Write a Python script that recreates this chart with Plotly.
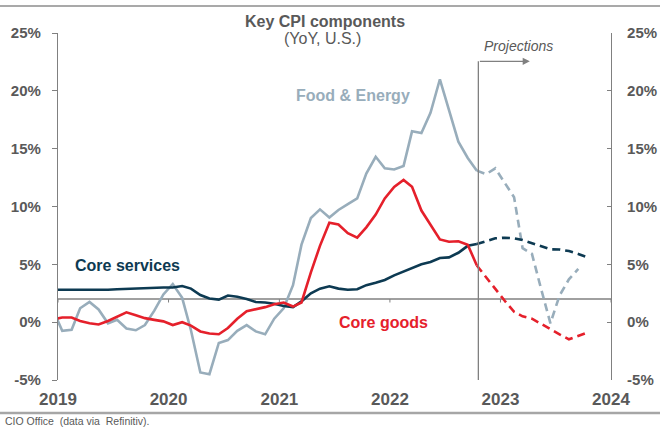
import pandas as pd
import plotly.graph_objects as go

# ---------------- data ----------------
actual_dates = pd.date_range("2018-12-01", "2022-10-01", freq="MS") + pd.Timedelta(days=14)
proj_dates = pd.date_range("2022-10-01", "2023-10-01", freq="MS") + pd.Timedelta(days=14)

core_services_actual = [2.8,
    2.8, 2.78, 2.78, 2.8, 2.77, 2.8, 2.85, 2.88, 2.92, 2.98, 3.02, 3.0,
    3.0, 3.12, 2.9, 2.35, 2.05, 1.95, 2.3, 2.2, 2.0, 1.75, 1.7, 1.6,
    1.4, 1.3, 1.8, 2.5, 2.9, 3.1, 2.9, 2.8, 2.85, 3.2, 3.4, 3.65,
    4.05, 4.4, 4.7, 5.0, 5.2, 5.55, 5.6, 6.0, 6.6, 6.75]
core_goods_actual = [0.25,
    0.4, 0.4, 0.1, -0.1, -0.2, 0.1, 0.45, 0.85, 0.6, 0.35, 0.2, 0.07,
    -0.25, 0.0, -0.3, -0.8, -0.98, -1.04, -0.5, 0.3, 0.95, 1.1, 1.3, 1.55,
    1.7, 1.35, 1.7, 4.3, 6.6, 8.6, 8.45, 7.7, 7.3, 8.2, 9.3, 10.7,
    11.7, 12.3, 11.7, 9.65, 8.4, 7.15, 6.95, 7.0, 6.7, 4.9]
food_energy_actual = [1.1,
    -0.75, -0.65, 1.2, 1.75, 1.1, -0.1, 0.2, -0.55, -0.7, -0.25, 1.0, 2.4,
    3.3, 2.1, -0.7, -4.35, -4.5, -1.8, -1.55, -0.75, -0.25, -0.8, -1.05, 0.3,
    1.2, 3.2, 6.7, 9.0, 9.75, 9.05, 9.7, 10.2, 10.7, 12.85, 14.3, 13.3,
    13.2, 13.5, 16.5, 16.35, 18.1, 21.0, 18.3, 15.6, 14.2, 13.1]

core_services_proj = [6.75, 7.0, 7.25, 7.3, 7.25, 7.1, 6.85, 6.6, 6.3, 6.28, 6.15, 5.9, 5.6]
core_goods_proj = [4.9, 3.85, 2.85, 1.85, 0.9, 0.5, 0.3, -0.15, -0.65, -1.05, -1.48, -1.2, -0.9]
food_energy_proj = [13.1, 12.8, 13.3, 12.1, 10.8, 6.4, 5.9, 2.9, -0.1, 2.3, 3.7, 4.6]

year_ticks = ["2019-01-01", "2020-01-01", "2021-01-01", "2022-01-01", "2023-01-01", "2024-01-01"]
year_labels = ["2019", "2020", "2021", "2022", "2023", "2024"]
y_ticks = [-5, 0, 5, 10, 15, 20, 25]
y_labels = ["-5%", "0%", "5%", "10%", "15%", "20%", "25%"]
target_level = 2.0
projection_start = "2022-10-20"

# ---------------- style ----------------
NAVY = "#0d3a52"
RED = "#e5202b"
STEEL = "#98adbb"
AXIS = "#808080"
TXT = "#595959"
FONT = "Liberation Sans, Arial, sans-serif"
W, H = 660, 431
L, R, T, B = 58, 49, 33, 51


def px(x, y):
    """pixel -> paper coords"""
    return (x - L) / (W - L - R), (H - B - y) / (H - T - B)


fig = go.Figure()

series = [
    ("Food & Energy", food_energy_actual, food_energy_proj, STEEL),
    ("Core services", core_services_actual, core_services_proj, NAVY),
    ("Core goods", core_goods_actual, core_goods_proj, RED),
]
for name, act, proj, col in series:
    fig.add_trace(go.Scatter(x=actual_dates, y=act, mode="lines", name=name,
                             line=dict(color=col, width=2.6), showlegend=False))
    fig.add_trace(go.Scatter(x=proj_dates[:len(proj)], y=proj, mode="lines", name=name + " proj",
                             line=dict(color=col, width=2.6, dash="8px,5px"), showlegend=False))

# invisible trace for right axis
fig.add_trace(go.Scatter(x=[actual_dates[0]], y=[0], yaxis="y2", mode="markers",
                         marker=dict(opacity=0), showlegend=False, hoverinfo="skip"))

shapes = []
# 2% target line acting as x axis
shapes.append(dict(type="line", xref="x", yref="y", x0=year_ticks[0], x1=year_ticks[-1],
                   y0=target_level, y1=target_level, line=dict(color=AXIS, width=1.5), layer="below"))
for t in year_ticks:
    shapes.append(dict(type="line", xref="x", yref="y", x0=t, x1=t, y0=target_level,
                       y1=target_level - 0.3, line=dict(color=AXIS, width=1)))
# projection vertical line
shapes.append(dict(type="line", xref="x", yref="y", x0=projection_start, x1=projection_start,
                   y0=-5.3, y1=22.55, line=dict(color=AXIS, width=1.3)))
# top rule and bottom rule
shapes.append(dict(type="line", xref="paper", yref="paper", x0=px(0, 6)[0], x1=px(660, 6)[0],
                   y0=px(0, 6)[1], y1=px(0, 6)[1], line=dict(color="#8c8c8c", width=1.5)))
shapes.append(dict(type="line", xref="paper", yref="paper", x0=px(0, 413)[0], x1=px(660, 413)[0],
                   y0=px(0, 413)[1], y1=px(0, 413)[1], line=dict(color="#a6a6a6", width=2.5)))

annotations = []
# projections arrow
annotations.append(dict(x="2023-04-08", y=22.55, ax=projection_start, ay=22.55, xref="x", yref="y",
                        axref="x", ayref="y", text="", showarrow=True, arrowhead=2, arrowsize=1.1,
                        arrowwidth=1.3, arrowcolor=AXIS))


def txt(text, x, y, size, color, bold=False, italic=False, xanchor="center"):
    s = text
    if bold:
        s = "<b>" + s + "</b>"
    if italic:
        s = "<i>" + s + "</i>"
    xx, yy = px(x, y)
    annotations.append(dict(text=s, x=xx, y=yy, xref="paper", yref="paper", showarrow=False,
                            xanchor=xanchor, yanchor="middle",
                            font=dict(family=FONT, size=size, color=color)))


txt("Projections", 518, 46, 14, TXT, italic=True)
txt("Key CPI components", 325, 21, 16, TXT, bold=True)
txt("(YoY, U.S.)", 322, 39, 16, TXT)
txt("Food & Energy", 353, 95, 16, STEEL, bold=True)
txt("Core services", 127, 265, 16, NAVY, bold=True)
txt("Core goods", 383, 322, 16, RED, bold=True)
txt("CIO Office  (data via  Refinitiv).", 3, 421, 10.5, TXT, xanchor="left")

yaxis_common = dict(range=[-5, 25], tickvals=y_ticks, ticktext=y_labels, showgrid=False, zeroline=False,
                    showline=True, linecolor=AXIS, linewidth=1.2, tickcolor=AXIS, automargin=False,
                    tickfont=dict(family=FONT, size=15, color=TXT, weight="bold"))

fig.update_layout(
    width=W, height=H,
    margin=dict(l=L, r=R, t=T, b=B, autoexpand=False),
    paper_bgcolor="white", plot_bgcolor="white",
    showlegend=False,
    xaxis=dict(type="date", range=["2019-01-01", "2024-01-01"], tickvals=year_ticks, ticktext=year_labels,
               showgrid=False, zeroline=False, showline=False, ticks="outside", ticklen=4,
               tickcolor="rgba(0,0,0,0)", automargin=False,
               tickfont=dict(family=FONT, size=17, color=TXT, weight="bold")),
    yaxis=dict(side="left", ticks="outside", ticklen=5, ticklabelstandoff=8, **yaxis_common),
    yaxis2=dict(side="right", overlaying="y", ticks="inside", ticklen=4, ticklabelstandoff=12,
                **yaxis_common),
    shapes=shapes,
    annotations=annotations,
)

fig.write_html("out.html")
